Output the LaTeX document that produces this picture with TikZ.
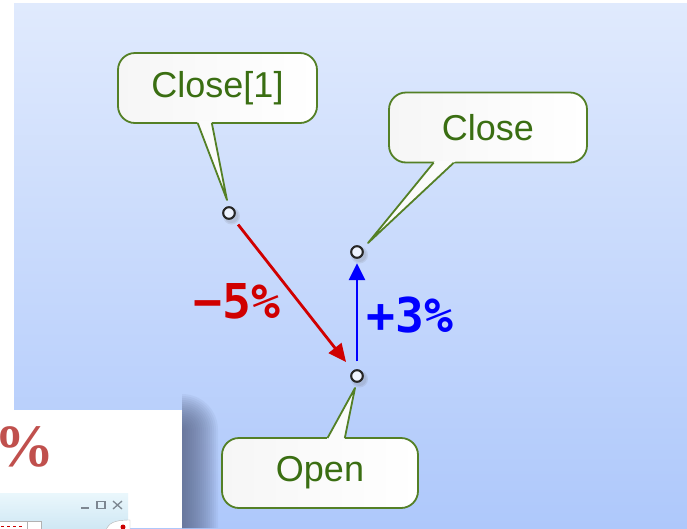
\documentclass[tikz,border=0pt]{standalone}
\usepackage{fontspec}
\setmainfont{Liberation Sans}
\newfontfamily\pctfont{DejaVu Sans Mono}
\newfontfamily\serfont{Liberation Serif}
\usetikzlibrary{arrows.meta,calc}
\definecolor{bgtop}{RGB}{224,234,253}
\definecolor{bgbot}{RGB}{174,200,251}
\definecolor{cgreen}{RGB}{84,128,38}
\definecolor{tgreen}{RGB}{58,110,18}
\definecolor{ared}{RGB}{208,0,0}
\definecolor{ablue}{RGB}{0,0,255}
\definecolor{pred}{RGB}{192,80,77}
\definecolor{shadowc}{RGB}{88,100,135}
\definecolor{tbtop}{RGB}{234,247,252}
\definecolor{tbbot}{RGB}{208,232,244}
\definecolor{ctrlgray}{RGB}{125,135,145}
\newcommand\calltail[3]{%
  \fill[gray!3] ($(#1)!-3.5pt!(#2)$) -- (#2) -- ($(#3)!-3.5pt!(#2)$) -- cycle;
  \draw[tailline] ($(#1)!-0.9pt!(#2)$) -- (#2) -- ($(#3)!-0.9pt!(#2)$);}
\begin{document}
\begin{tikzpicture}[x=1pt,y=-1pt,
  callbox/.style={draw=cgreen, line width=1.8pt, rounded corners=17pt,
    left color=gray!7, right color=white, minimum width=#1, minimum height=70pt,
    text=tgreen, font=\fontsize{36}{40}\selectfont, inner sep=0pt},
  tailline/.style={draw=cgreen, line width=1.8pt, line join=round},
  dotnode/.style={circle, draw=black!85, line width=1.9pt, fill=white!45!bgtop,
    minimum size=11.5pt, inner sep=0pt},
  dotshadow/.style={fill=black!60, opacity=0.12},
  pctlabel/.style={font=\pctfont\bfseries\fontsize{48}{50}\selectfont, inner sep=0pt},
  redarrow/.style={draw=ared, line width=2.8pt, -{Triangle[length=18pt,width=16pt]},
    shorten <=8pt, shorten >=11pt},
  bluearrow/.style={draw=ablue, line width=2.8pt, -{Triangle[length=17pt,width=16pt]},
    shorten <=8pt, shorten >=4.5pt},
  ctrl/.style={draw=ctrlgray, line width=1.3pt},
  shadowpiece/.style={fill=shadowc, opacity=0.075}
]
\useasboundingbox (0,0) rectangle (687,528);
\fill[white] (0,0) rectangle (687,528);
\shade[top color=bgtop, bottom color=bgbot] (14,3) rectangle (687,528);

% bottom-left window fragment with soft shadow
\foreach \k in {1,...,18} {
  \fill[shadowpiece] (182,528) -- ({182+2*\k},528) -- ({182+2*\k},430)
    .. controls ({182+2*\k},{430-1.1046*\k}) and ({182+1.1046*\k},{430-2*\k}) .. (182,{430-2*\k})
    -- cycle;
}
\fill[white] (0,410) rectangle (182,528);
\begin{scope}
  \clip (0,410) rectangle (182,528);
  \node[text=pred, font=\serfont\bfseries\fontsize{60}{62}\selectfont,
        anchor=east, inner sep=0pt] (pc) at (55,447) {\%};
  \shade[top color=tbtop, bottom color=tbbot] (0,493) rectangle (128,528);
  \draw[ctrl] (81,508) -- (89,508);
  \draw[ctrl] (97,501.5) rectangle (105,508.5);
  \draw[ctrl] (113,501) -- (122,509) (122,501) -- (113,509);
  \draw[gray!60, fill=white] (-2,521) rectangle (41,532);
  \draw[gray!60] (27,521) -- (27,532);
  \draw[red!80!black, line width=1pt, dash pattern=on 3pt off 3pt] (1,526) -- (22,526);
  \draw[gray!60, fill=white] (106,530) .. controls (109,523) and (114,520) .. (130,520) -- (130,530) -- cycle;
  \fill[red!80!black] (123,527) circle (2.5);
\end{scope}

% points
\node[dotnode] (p1) at (229,213) {};
\node[dotnode] (p2) at (357,252) {};
\node[dotnode] (p3) at (357,376) {};

% callouts
\node[callbox=199pt] (c1) at (217.5,88) {Close[1]};
\node[callbox=198pt] (c2) at (488,127.5) {Close};
\node[callbox=196pt] (c3) at (320,473) {Open};

\coordinate (t1) at (227,200);
\coordinate (t2) at (368,243);
\coordinate (t3) at (355,388);
\coordinate (b1l) at ($(c1.south)+(-19.5,0)$);
\coordinate (b1r) at ($(c1.south)+(-5.5,0)$);
\coordinate (b2l) at ($(c2.south)+(-55,0)$);
\coordinate (b2r) at ($(c2.south)+(-35,0)$);
\coordinate (b3l) at ($(c3.north)+(8,0)$);
\coordinate (b3r) at ($(c3.north)+(25,0)$);
\calltail{b1l}{t1}{b1r}
\calltail{b2l}{t2}{b2r}
\calltail{b3l}{t3}{b3r}

% point shadows and redraw
\foreach \p in {p1,p2,p3} {
  \fill[dotshadow] ($(\p)+(2.5,3)$) circle (8.5);
  \fill[dotshadow] ($(\p)+(2.5,3)$) circle (7);
}
\node[dotnode] at (p1) {};
\node[dotnode] at (p2) {};
\node[dotnode] at (p3) {};

% arrows
\draw[redarrow] (p1) -- (p3);
\draw[bluearrow] (p3) -- (p2);

% labels
\node[pctlabel, text=ared] (lm) at (237,301) {−5\%};
\node[pctlabel, text=ablue] (lp) at (410,315.5) {+3\%};
\end{tikzpicture}
\end{document}
